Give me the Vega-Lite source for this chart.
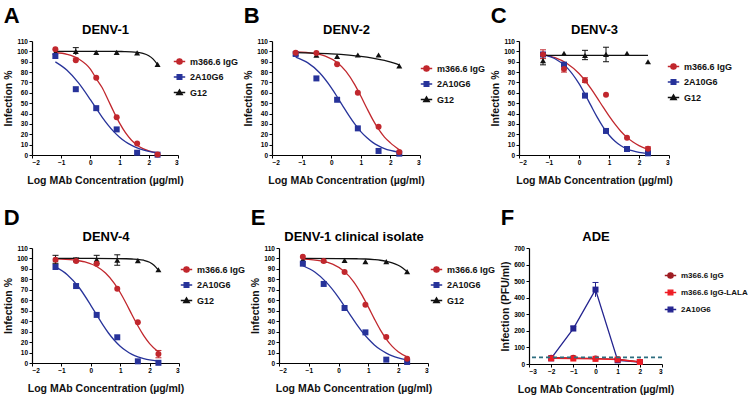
{
  "padding": {"left": 3, "top": 5, "right": 0, "bottom": 0},
  "config": {
    "font": "Liberation Sans",
    "view": {"stroke": null},
    "axis": {"grid": false, "labelOverlap": false, "domainColor": "#000", "tickColor": "#000", "tickSize": 3, "labelFontSize": 6.5, "labelFontWeight": "bold", "labelColor": "#000", "titleFontSize": 10.5, "titleFontWeight": "bold", "titleColor": "#111", "labelPadding": 1.5, "domainWidth": 1.2},
    "axisX": {"titlePadding": 9},
    "axisY": {"titlePadding": 3},
    "title": {"fontSize": 22, "fontWeight": "bold", "color": "#000", "anchor": "start"},
    "legend": {"padding": 0}
  },
  "datasets": {
    "cA": [
      {"x":-1.2,"y":98.9,"s":"m366.6 IgG"},{"x":-0.8,"y":97.1,"s":"m366.6 IgG"},{"x":-0.4,"y":92.7,"s":"m366.6 IgG"},{"x":0,"y":82.9,"s":"m366.6 IgG"},{"x":0.2,"y":73.7,"s":"m366.6 IgG"},{"x":0.4,"y":65.1,"s":"m366.6 IgG"},{"x":0.6,"y":53.6,"s":"m366.6 IgG"},{"x":0.8,"y":41.7,"s":"m366.6 IgG"},{"x":1.0,"y":30.7,"s":"m366.6 IgG"},{"x":1.2,"y":21.5,"s":"m366.6 IgG"},{"x":1.4,"y":14.5,"s":"m366.6 IgG"},{"x":1.6,"y":9.5,"s":"m366.6 IgG"},{"x":1.8,"y":6.1,"s":"m366.6 IgG"},{"x":2.0,"y":3.9,"s":"m366.6 IgG"},{"x":2.3,"y":1.9,"s":"m366.6 IgG"},
      {"x":-1.2,"y":89.9,"s":"2A10G6"},{"x":-0.8,"y":81.8,"s":"2A10G6"},{"x":-0.4,"y":69.4,"s":"2A10G6"},{"x":0,"y":53.4,"s":"2A10G6"},{"x":0.2,"y":44.9,"s":"2A10G6"},{"x":0.4,"y":36.6,"s":"2A10G6"},{"x":0.6,"y":29.1,"s":"2A10G6"},{"x":0.8,"y":22.6,"s":"2A10G6"},{"x":1.0,"y":17.2,"s":"2A10G6"},{"x":1.2,"y":12.8,"s":"2A10G6"},{"x":1.4,"y":9.5,"s":"2A10G6"},{"x":1.6,"y":6.9,"s":"2A10G6"},{"x":1.8,"y":5.0,"s":"2A10G6"},{"x":2.0,"y":3.6,"s":"2A10G6"},{"x":2.3,"y":2.2,"s":"2A10G6"},
      {"x":-1.2,"y":100,"s":"G12"},{"x":0,"y":100,"s":"G12"},{"x":0.8,"y":99.9,"s":"G12"},{"x":1.2,"y":99.8,"s":"G12"},{"x":1.4,"y":99.6,"s":"G12"},{"x":1.6,"y":99.1,"s":"G12"},{"x":1.8,"y":98.1,"s":"G12"},{"x":2.0,"y":95.8,"s":"G12"},{"x":2.15,"y":92.5,"s":"G12"},{"x":2.3,"y":87.2,"s":"G12"}
    ],
    "pA": [
      {"x":-1.2,"y":99,"s":"G12"},{"x":-0.5,"y":100,"s":"G12","lo":96.5,"hi":103.6},{"x":0.2,"y":99,"s":"G12"},{"x":0.9,"y":99,"s":"G12"},{"x":1.6,"y":98.5,"s":"G12"},{"x":2.3,"y":87.5,"s":"G12"},
      {"x":-1.2,"y":95.5,"s":"2A10G6"},{"x":-0.5,"y":63.5,"s":"2A10G6"},{"x":0.2,"y":45.2,"s":"2A10G6"},{"x":0.9,"y":24.7,"s":"2A10G6"},{"x":1.6,"y":2.2,"s":"2A10G6"},{"x":2.3,"y":0.3,"s":"2A10G6"},
      {"x":-1.2,"y":102,"s":"m366.6 IgG"},{"x":-0.5,"y":91.5,"s":"m366.6 IgG","lo":89.5,"hi":93.5},{"x":0.2,"y":74.5,"s":"m366.6 IgG"},{"x":0.9,"y":36.5,"s":"m366.6 IgG"},{"x":1.6,"y":11.2,"s":"m366.6 IgG"},{"x":2.3,"y":0.5,"s":"m366.6 IgG"}
    ],
    "cB": [
      {"x":-1.2,"y":99.5,"s":"m366.6 IgG"},{"x":-0.6,"y":98.1,"s":"m366.6 IgG"},{"x":-0.2,"y":95.4,"s":"m366.6 IgG"},{"x":0.2,"y":89.2,"s":"m366.6 IgG"},{"x":0.5,"y":80.6,"s":"m366.6 IgG"},{"x":0.8,"y":67.6,"s":"m366.6 IgG"},{"x":1.0,"y":56.9,"s":"m366.6 IgG"},{"x":1.2,"y":45.4,"s":"m366.6 IgG"},{"x":1.4,"y":34.4,"s":"m366.6 IgG"},{"x":1.6,"y":24.9,"s":"m366.6 IgG"},{"x":1.8,"y":17.3,"s":"m366.6 IgG"},{"x":2.0,"y":11.7,"s":"m366.6 IgG"},{"x":2.3,"y":5.0,"s":"m366.6 IgG"},
      {"x":-1.2,"y":94.5,"s":"2A10G6"},{"x":-0.8,"y":89.1,"s":"2A10G6"},{"x":-0.4,"y":79.6,"s":"2A10G6"},{"x":0,"y":65,"s":"2A10G6"},{"x":0.2,"y":56.2,"s":"2A10G6"},{"x":0.4,"y":47,"s":"2A10G6"},{"x":0.6,"y":38,"s":"2A10G6"},{"x":0.8,"y":29.7,"s":"2A10G6"},{"x":1.0,"y":22.6,"s":"2A10G6"},{"x":1.2,"y":16.8,"s":"2A10G6"},{"x":1.4,"y":12.2,"s":"2A10G6"},{"x":1.6,"y":8.8,"s":"2A10G6"},{"x":1.8,"y":6.2,"s":"2A10G6"},{"x":2.0,"y":4.4,"s":"2A10G6"},{"x":2.3,"y":2.6,"s":"2A10G6"},
      {"x":-1.2,"y":98.7,"s":"G12"},{"x":-0.6,"y":98.3,"s":"G12"},{"x":0,"y":97.6,"s":"G12"},{"x":0.6,"y":96.4,"s":"G12"},{"x":1.0,"y":95.2,"s":"G12"},{"x":1.4,"y":93.5,"s":"G12"},{"x":1.8,"y":91.2,"s":"G12"},{"x":2.1,"y":89,"s":"G12"},{"x":2.3,"y":87,"s":"G12"}
    ],
    "pB": [
      {"x":-1.2,"y":98,"s":"G12"},{"x":-0.5,"y":96.3,"s":"G12"},{"x":0.2,"y":95.2,"s":"G12"},{"x":0.9,"y":96.5,"s":"G12"},{"x":1.6,"y":96.5,"s":"G12"},{"x":2.3,"y":86,"s":"G12"},
      {"x":-1.2,"y":97.5,"s":"2A10G6"},{"x":-0.5,"y":73.9,"s":"2A10G6"},{"x":0.2,"y":53.3,"s":"2A10G6"},{"x":0.9,"y":25.7,"s":"2A10G6"},{"x":1.6,"y":3.9,"s":"2A10G6"},{"x":2.3,"y":1.3,"s":"2A10G6"},
      {"x":-1.2,"y":98.7,"s":"m366.6 IgG"},{"x":-0.5,"y":98.5,"s":"m366.6 IgG"},{"x":0.2,"y":87.5,"s":"m366.6 IgG"},{"x":0.9,"y":60.1,"s":"m366.6 IgG"},{"x":1.6,"y":27.3,"s":"m366.6 IgG"},{"x":2.3,"y":2.9,"s":"m366.6 IgG"}
    ],
    "cC": [
      {"x":-1.2,"y":96.9,"s":"m366.6 IgG"},{"x":-0.8,"y":93.9,"s":"m366.6 IgG"},{"x":-0.4,"y":88.3,"s":"m366.6 IgG"},{"x":0,"y":78.6,"s":"m366.6 IgG"},{"x":0.2,"y":71.9,"s":"m366.6 IgG"},{"x":0.4,"y":64,"s":"m366.6 IgG"},{"x":0.6,"y":55.4,"s":"m366.6 IgG"},{"x":0.8,"y":46.4,"s":"m366.6 IgG"},{"x":1.0,"y":37.7,"s":"m366.6 IgG"},{"x":1.2,"y":29.7,"s":"m366.6 IgG"},{"x":1.4,"y":22.7,"s":"m366.6 IgG"},{"x":1.6,"y":17,"s":"m366.6 IgG"},{"x":1.8,"y":12.5,"s":"m366.6 IgG"},{"x":2.0,"y":9.1,"s":"m366.6 IgG"},{"x":2.3,"y":5.5,"s":"m366.6 IgG"},
      {"x":-1.2,"y":96.9,"s":"2A10G6"},{"x":-0.8,"y":92.9,"s":"2A10G6"},{"x":-0.4,"y":84.3,"s":"2A10G6"},{"x":0,"y":68.8,"s":"2A10G6"},{"x":0.2,"y":58.6,"s":"2A10G6"},{"x":0.4,"y":47.6,"s":"2A10G6"},{"x":0.6,"y":36.8,"s":"2A10G6"},{"x":0.8,"y":27.2,"s":"2A10G6"},{"x":1.0,"y":19.3,"s":"2A10G6"},{"x":1.2,"y":13.3,"s":"2A10G6"},{"x":1.4,"y":8.9,"s":"2A10G6"},{"x":1.6,"y":6,"s":"2A10G6"},{"x":1.8,"y":3.9,"s":"2A10G6"},{"x":2.0,"y":2.5,"s":"2A10G6"},{"x":2.3,"y":1.3,"s":"2A10G6"},
      {"x":-1.2,"y":96.2,"s":"G12"},{"x":2.3,"y":96.2,"s":"G12"}
    ],
    "pC": [
      {"x":-1.2,"y":91,"s":"G12","lo":87,"hi":95},{"x":-0.5,"y":98,"s":"G12"},{"x":0.2,"y":96,"s":"G12","lo":92,"hi":101},{"x":0.9,"y":97,"s":"G12","lo":90,"hi":104},{"x":1.6,"y":98,"s":"G12"},{"x":2.3,"y":90,"s":"G12"},
      {"x":-1.2,"y":97,"s":"2A10G6"},{"x":-0.5,"y":87.2,"s":"2A10G6"},{"x":0.2,"y":57.3,"s":"2A10G6"},{"x":0.9,"y":23.2,"s":"2A10G6"},{"x":1.6,"y":5.8,"s":"2A10G6"},{"x":2.3,"y":1.6,"s":"2A10G6"},
      {"x":-1.2,"y":97,"s":"m366.6 IgG","lo":93,"hi":101.5},{"x":-0.5,"y":83,"s":"m366.6 IgG","lo":80,"hi":86},{"x":0.2,"y":72,"s":"m366.6 IgG","lo":70,"hi":74.5},{"x":0.9,"y":58.2,"s":"m366.6 IgG"},{"x":1.6,"y":16.7,"s":"m366.6 IgG"},{"x":2.3,"y":6.1,"s":"m366.6 IgG","lo":4.5,"hi":7.8}
    ],
    "cD": [
      {"x":-1.2,"y":99.6,"s":"m366.6 IgG"},{"x":-0.6,"y":98.6,"s":"m366.6 IgG"},{"x":-0.2,"y":96.7,"s":"m366.6 IgG"},{"x":0.2,"y":92.3,"s":"m366.6 IgG"},{"x":0.5,"y":86.1,"s":"m366.6 IgG"},{"x":0.8,"y":76.2,"s":"m366.6 IgG"},{"x":1.0,"y":67.4,"s":"m366.6 IgG"},{"x":1.2,"y":57.1,"s":"m366.6 IgG"},{"x":1.4,"y":46.2,"s":"m366.6 IgG"},{"x":1.6,"y":35.6,"s":"m366.6 IgG"},{"x":1.8,"y":26.2,"s":"m366.6 IgG"},{"x":2.0,"y":18.6,"s":"m366.6 IgG"},{"x":2.3,"y":10.6,"s":"m366.6 IgG"},
      {"x":-1.2,"y":92,"s":"2A10G6"},{"x":-0.8,"y":84.5,"s":"2A10G6"},{"x":-0.4,"y":72.2,"s":"2A10G6"},{"x":0,"y":55.2,"s":"2A10G6"},{"x":0.2,"y":46,"s":"2A10G6"},{"x":0.4,"y":36.9,"s":"2A10G6"},{"x":0.6,"y":28.7,"s":"2A10G6"},{"x":0.8,"y":21.8,"s":"2A10G6"},{"x":1.0,"y":16.1,"s":"2A10G6"},{"x":1.2,"y":11.7,"s":"2A10G6"},{"x":1.4,"y":8.3,"s":"2A10G6"},{"x":1.6,"y":5.9,"s":"2A10G6"},{"x":1.8,"y":4.2,"s":"2A10G6"},{"x":2.0,"y":2.9,"s":"2A10G6"},{"x":2.3,"y":1.7,"s":"2A10G6"},
      {"x":-1.2,"y":100,"s":"G12"},{"x":0,"y":100,"s":"G12"},{"x":0.8,"y":99.9,"s":"G12"},{"x":1.2,"y":99.7,"s":"G12"},{"x":1.4,"y":99.5,"s":"G12"},{"x":1.6,"y":99.2,"s":"G12"},{"x":1.8,"y":98.3,"s":"G12"},{"x":2.0,"y":96.4,"s":"G12"},{"x":2.15,"y":93.6,"s":"G12"},{"x":2.3,"y":88.9,"s":"G12"}
    ],
    "pD": [
      {"x":-1.2,"y":98.8,"s":"G12","lo":95,"hi":103},{"x":-0.5,"y":98.8,"s":"G12","lo":97,"hi":100.5},{"x":0.2,"y":98.8,"s":"G12","lo":95,"hi":103},{"x":0.9,"y":98.3,"s":"G12","lo":93.5,"hi":103.5},{"x":1.6,"y":97.9,"s":"G12"},{"x":2.3,"y":89.2,"s":"G12"},
      {"x":-1.2,"y":91.8,"s":"2A10G6"},{"x":-0.5,"y":73.6,"s":"2A10G6"},{"x":0.2,"y":46,"s":"2A10G6"},{"x":0.9,"y":24.6,"s":"2A10G6"},{"x":1.6,"y":1.6,"s":"2A10G6"},{"x":2.3,"y":0.2,"s":"2A10G6"},
      {"x":-1.2,"y":98.8,"s":"m366.6 IgG"},{"x":-0.5,"y":97.5,"s":"m366.6 IgG"},{"x":0.2,"y":95,"s":"m366.6 IgG"},{"x":0.9,"y":71,"s":"m366.6 IgG"},{"x":1.6,"y":39,"s":"m366.6 IgG"},{"x":2.3,"y":8.6,"s":"m366.6 IgG","lo":5,"hi":12}
    ],
    "cE": [
      {"x":-1.2,"y":99.4,"s":"m366.6 IgG"},{"x":-0.6,"y":97.7,"s":"m366.6 IgG"},{"x":-0.2,"y":94.5,"s":"m366.6 IgG"},{"x":0.2,"y":87.4,"s":"m366.6 IgG"},{"x":0.5,"y":77.9,"s":"m366.6 IgG"},{"x":0.8,"y":64.2,"s":"m366.6 IgG"},{"x":1.0,"y":53.4,"s":"m366.6 IgG"},{"x":1.2,"y":42.2,"s":"m366.6 IgG"},{"x":1.4,"y":31.7,"s":"m366.6 IgG"},{"x":1.6,"y":22.9,"s":"m366.6 IgG"},{"x":1.8,"y":15.9,"s":"m366.6 IgG"},{"x":2.0,"y":10.8,"s":"m366.6 IgG"},{"x":2.3,"y":5.8,"s":"m366.6 IgG"},
      {"x":-1.2,"y":93,"s":"2A10G6"},{"x":-0.8,"y":87,"s":"2A10G6"},{"x":-0.4,"y":76.9,"s":"2A10G6"},{"x":0,"y":62.6,"s":"2A10G6"},{"x":0.2,"y":54.2,"s":"2A10G6"},{"x":0.4,"y":45.6,"s":"2A10G6"},{"x":0.6,"y":37.2,"s":"2A10G6"},{"x":0.8,"y":29.5,"s":"2A10G6"},{"x":1.0,"y":22.9,"s":"2A10G6"},{"x":1.2,"y":17.3,"s":"2A10G6"},{"x":1.4,"y":12.9,"s":"2A10G6"},{"x":1.6,"y":9.5,"s":"2A10G6"},{"x":1.8,"y":6.9,"s":"2A10G6"},{"x":2.0,"y":5,"s":"2A10G6"},{"x":2.3,"y":3,"s":"2A10G6"},
      {"x":-1.2,"y":100,"s":"G12"},{"x":0,"y":99.9,"s":"G12"},{"x":0.6,"y":99.7,"s":"G12"},{"x":0.9,"y":99.5,"s":"G12"},{"x":1.2,"y":98.9,"s":"G12"},{"x":1.4,"y":98.3,"s":"G12"},{"x":1.6,"y":97.3,"s":"G12"},{"x":1.8,"y":95.8,"s":"G12"},{"x":2.0,"y":93.5,"s":"G12"},{"x":2.15,"y":90.9,"s":"G12"},{"x":2.3,"y":87.4,"s":"G12"}
    ],
    "pE": [
      {"x":-1.2,"y":98.9,"s":"G12"},{"x":-0.5,"y":98.2,"s":"G12"},{"x":0.2,"y":98.2,"s":"G12"},{"x":0.9,"y":97,"s":"G12"},{"x":1.6,"y":97,"s":"G12"},{"x":2.3,"y":87.4,"s":"G12"},
      {"x":-1.2,"y":95,"s":"2A10G6"},{"x":-0.5,"y":75.6,"s":"2A10G6"},{"x":0.2,"y":52.6,"s":"2A10G6"},{"x":0.9,"y":29.3,"s":"2A10G6"},{"x":1.6,"y":3.2,"s":"2A10G6"},{"x":2.3,"y":1,"s":"2A10G6"},
      {"x":-1.2,"y":101.7,"s":"m366.6 IgG"},{"x":-0.5,"y":97.6,"s":"m366.6 IgG"},{"x":0.2,"y":87,"s":"m366.6 IgG"},{"x":0.9,"y":55.8,"s":"m366.6 IgG"},{"x":1.6,"y":24.9,"s":"m366.6 IgG"},{"x":2.3,"y":4.1,"s":"m366.6 IgG"}
    ],
    "pF": [
      {"x":-2,"y":34,"s":"2A10G6"},{"x":-1,"y":214,"s":"2A10G6","lo":199,"hi":229},{"x":0,"y":449,"s":"2A10G6","lo":405,"hi":492},{"x":1,"y":22,"s":"2A10G6"},{"x":2,"y":12,"s":"2A10G6"},
      {"x":-2,"y":38,"s":"m366.6 IgG"},{"x":-1,"y":37,"s":"m366.6 IgG"},{"x":0,"y":33,"s":"m366.6 IgG"},{"x":1,"y":29,"s":"m366.6 IgG"},{"x":2,"y":13,"s":"m366.6 IgG"},
      {"x":-2,"y":34,"s":"m366.6 IgG-LALA"},{"x":-1,"y":33,"s":"m366.6 IgG-LALA"},{"x":0,"y":31,"s":"m366.6 IgG-LALA"},{"x":1,"y":27,"s":"m366.6 IgG-LALA"},{"x":2,"y":12,"s":"m366.6 IgG-LALA"}
    ],
    "lodF": [{"lod": 40}]
  },
  "resolve": {"scale": {"color": "independent", "shape": "independent", "fill": "independent", "stroke": "independent"}, "legend": {"color": "independent", "shape": "independent", "fill": "independent", "stroke": "independent"}},
  "spacing": 21,
  "vconcat": [
    {
      "spacing": 4,
      "resolve": {"scale": {"color": "independent", "shape": "independent", "fill": "independent", "stroke": "independent"}, "legend": {"color": "independent", "shape": "independent", "fill": "independent", "stroke": "independent"}},
      "hconcat": [
        {
          "width": 146, "height": 114,
          "title": {"text": "A", "offset": -5},
          "resolve": {"axis": {"x": "independent"}},
          "layer": [
            {"data": {"name": "cA"}, "mark": {"type": "line", "interpolate": "monotone", "strokeWidth": 1.3},
             "encoding": {
               "x": {"field": "x", "type": "quantitative", "title": "Log MAb Concentration (µg/ml)", "scale": {"domain": [-2, 3], "nice": false, "zero": false}, "axis": {"values": [-2, -1, 0, 1, 2, 3], "tickCount": 20, "labelOverlap": false, "format": "d"}},
               "y": {"field": "y", "type": "quantitative", "title": "Infection %", "scale": {"domain": [0, 110], "nice": false}, "axis": {"values": [0, 10, 20, 30, 40, 50, 60, 70, 80, 90, 100, 110], "tickCount": 20, "labelOverlap": false, "format": "d"}},
               "color": {"field": "s", "type": "nominal", "scale": {"domain": ["G12", "2A10G6", "m366.6 IgG"], "range": ["#111111", "#27339a", "#c1272d"]}, "legend": null}}},
            {"data": {"name": "pA"}, "transform": [{"filter": {"field": "hi", "valid": true}}], "mark": {"type": "rule", "strokeWidth": 1},
             "encoding": {"x": {"field": "x", "type": "quantitative", "axis": null}, "y": {"field": "lo", "type": "quantitative", "title": "Infection %"}, "y2": {"field": "hi"}, "color": {"field": "s", "type": "nominal", "legend": null}}},
            {"data": {"name": "pA"}, "transform": [{"filter": {"field": "hi", "valid": true}}], "mark": {"type": "tick", "orient": "horizontal", "size": 6, "thickness": 1, "opacity": 1},
             "encoding": {"x": {"field": "x", "type": "quantitative", "axis": null}, "y": {"field": "hi", "type": "quantitative", "title": "Infection %"}, "color": {"field": "s", "type": "nominal", "legend": null}}},
            {"data": {"name": "pA"}, "transform": [{"filter": {"field": "s", "equal": "G12"}}], "mark": {"type": "point", "shape": "triangle-up", "filled": true, "opacity": 1, "size": 36},
             "encoding": {"x": {"field": "x", "type": "quantitative", "axis": {"orient": "top", "title": "DENV-1", "domain": false, "ticks": false, "labels": false, "titleFontSize": 13, "titleColor": "#000", "titlePadding": 5}}, "y": {"field": "y", "type": "quantitative", "title": "Infection %"}, "color": {"field": "s", "type": "nominal", "legend": null}}},
            {"data": {"name": "pA"}, "transform": [{"filter": {"field": "s", "equal": "2A10G6"}}], "mark": {"type": "point", "shape": "square", "filled": true, "opacity": 1, "size": 36},
             "encoding": {"x": {"field": "x", "type": "quantitative", "axis": null}, "y": {"field": "y", "type": "quantitative", "title": "Infection %"}, "color": {"field": "s", "type": "nominal", "legend": null}}},
            {"data": {"name": "pA"}, "transform": [{"filter": {"field": "s", "equal": "m366.6 IgG"}}], "mark": {"type": "point", "shape": "circle", "filled": true, "opacity": 1, "size": 36},
             "encoding": {"x": {"field": "x", "type": "quantitative", "axis": null}, "y": {"field": "y", "type": "quantitative", "title": "Infection %"}, "color": {"field": "s", "type": "nominal", "legend": null}}},
            {"data": {"name": "pA"}, "transform": [{"filter": {"field": "s", "equal": "none"}}], "mark": {"type": "point", "filled": true, "opacity": 1, "strokeWidth": 1.3, "size": 45},
             "encoding": {
               "x": {"field": "x", "type": "quantitative", "axis": null},
               "y": {"field": "y", "type": "quantitative", "title": "Infection %"},
               "fill": {"field": "s", "type": "nominal", "scale": {"domain": ["m366.6 IgG", "2A10G6", "G12"], "range": ["#c1272d", "#27339a", "#111111"]},
                 "legend": {"orient": "none", "legendX": 143, "legendY": 16, "title": null, "labelFontSize": 9, "labelFontWeight": "bold", "labelColor": "#111", "symbolSize": 45, "symbolStrokeWidth": 1.3, "symbolOpacity": 1, "rowPadding": 4.5, "labelOffset": 6}},
               "stroke": {"field": "s", "type": "nominal", "scale": {"domain": ["m366.6 IgG", "2A10G6", "G12"], "range": ["#c1272d", "#27339a", "#111111"]},
                 "legend": {"orient": "none", "legendX": 143, "legendY": 16, "title": null, "labelFontSize": 9, "labelFontWeight": "bold", "labelColor": "#111", "symbolSize": 45, "symbolStrokeWidth": 1.3, "symbolOpacity": 1, "rowPadding": 4.5, "labelOffset": 6}},
               "shape": {"field": "s", "type": "nominal", "scale": {"domain": ["m366.6 IgG", "2A10G6", "G12"], "range": ["M-1.7,0H1.7M-0.8,0A0.8,0.8,0,1,1,0.8,0A0.8,0.8,0,1,1,-0.8,0Z", "M-1.7,0H1.7M-0.7,-0.7H0.7V0.7H-0.7Z", "M-1.7,0H1.7M0,-0.8L0.85,0.65L-0.85,0.65Z"]},
                 "legend": {"orient": "none", "legendX": 143, "legendY": 16, "title": null, "labelFontSize": 9, "labelFontWeight": "bold", "labelColor": "#111", "symbolSize": 45, "symbolStrokeWidth": 1.3, "symbolOpacity": 1, "rowPadding": 4.5, "labelOffset": 6}}
             }}
          ]
        },
        {
          "width": 148, "height": 114,
          "title": {"text": "B", "offset": -5},
          "resolve": {"axis": {"x": "independent"}},
          "layer": [
            {"data": {"name": "cB"}, "mark": {"type": "line", "interpolate": "monotone", "strokeWidth": 1.3},
             "encoding": {
               "x": {"field": "x", "type": "quantitative", "title": "Log MAb Concentration (µg/ml)", "scale": {"domain": [-2, 3], "nice": false, "zero": false}, "axis": {"values": [-2, -1, 0, 1, 2, 3], "tickCount": 20, "labelOverlap": false, "format": "d"}},
               "y": {"field": "y", "type": "quantitative", "title": "Infection %", "scale": {"domain": [0, 110], "nice": false}, "axis": {"values": [0, 10, 20, 30, 40, 50, 60, 70, 80, 90, 100, 110], "tickCount": 20, "labelOverlap": false, "format": "d"}},
               "color": {"field": "s", "type": "nominal", "scale": {"domain": ["G12", "2A10G6", "m366.6 IgG"], "range": ["#111111", "#27339a", "#c1272d"]}, "legend": null}}},
            {"data": {"name": "pB"}, "transform": [{"filter": {"field": "s", "equal": "G12"}}], "mark": {"type": "point", "shape": "triangle-up", "filled": true, "opacity": 1, "size": 36},
             "encoding": {"x": {"field": "x", "type": "quantitative", "axis": {"orient": "top", "title": "DENV-2", "domain": false, "ticks": false, "labels": false, "titleFontSize": 13, "titleColor": "#000", "titlePadding": 5}}, "y": {"field": "y", "type": "quantitative", "title": "Infection %"}, "color": {"field": "s", "type": "nominal", "legend": null}}},
            {"data": {"name": "pB"}, "transform": [{"filter": {"field": "s", "equal": "2A10G6"}}], "mark": {"type": "point", "shape": "square", "filled": true, "opacity": 1, "size": 36},
             "encoding": {"x": {"field": "x", "type": "quantitative", "axis": null}, "y": {"field": "y", "type": "quantitative", "title": "Infection %"}, "color": {"field": "s", "type": "nominal", "legend": null}}},
            {"data": {"name": "pB"}, "transform": [{"filter": {"field": "s", "equal": "m366.6 IgG"}}], "mark": {"type": "point", "shape": "circle", "filled": true, "opacity": 1, "size": 36},
             "encoding": {"x": {"field": "x", "type": "quantitative", "axis": null}, "y": {"field": "y", "type": "quantitative", "title": "Infection %"}, "color": {"field": "s", "type": "nominal", "legend": null}}},
            {"data": {"name": "pB"}, "transform": [{"filter": {"field": "s", "equal": "none"}}], "mark": {"type": "point", "filled": true, "opacity": 1, "strokeWidth": 1.3, "size": 45},
             "encoding": {
               "x": {"field": "x", "type": "quantitative", "axis": null},
               "y": {"field": "y", "type": "quantitative", "title": "Infection %"},
               "fill": {"field": "s", "type": "nominal", "scale": {"domain": ["m366.6 IgG", "2A10G6", "G12"], "range": ["#c1272d", "#27339a", "#111111"]},
                 "legend": {"orient": "none", "legendX": 150, "legendY": 23, "title": null, "labelFontSize": 9, "labelFontWeight": "bold", "labelColor": "#111", "symbolSize": 45, "symbolStrokeWidth": 1.3, "symbolOpacity": 1, "rowPadding": 4.5, "labelOffset": 6}},
               "stroke": {"field": "s", "type": "nominal", "scale": {"domain": ["m366.6 IgG", "2A10G6", "G12"], "range": ["#c1272d", "#27339a", "#111111"]},
                 "legend": {"orient": "none", "legendX": 150, "legendY": 23, "title": null, "labelFontSize": 9, "labelFontWeight": "bold", "labelColor": "#111", "symbolSize": 45, "symbolStrokeWidth": 1.3, "symbolOpacity": 1, "rowPadding": 4.5, "labelOffset": 6}},
               "shape": {"field": "s", "type": "nominal", "scale": {"domain": ["m366.6 IgG", "2A10G6", "G12"], "range": ["M-1.7,0H1.7M-0.8,0A0.8,0.8,0,1,1,0.8,0A0.8,0.8,0,1,1,-0.8,0Z", "M-1.7,0H1.7M-0.7,-0.7H0.7V0.7H-0.7Z", "M-1.7,0H1.7M0,-0.8L0.85,0.65L-0.85,0.65Z"]},
                 "legend": {"orient": "none", "legendX": 150, "legendY": 23, "title": null, "labelFontSize": 9, "labelFontWeight": "bold", "labelColor": "#111", "symbolSize": 45, "symbolStrokeWidth": 1.3, "symbolOpacity": 1, "rowPadding": 4.5, "labelOffset": 6}}
             }}
          ]
        },
        {
          "width": 150, "height": 114,
          "title": {"text": "C", "offset": -5},
          "resolve": {"axis": {"x": "independent"}},
          "layer": [
            {"data": {"name": "cC"}, "mark": {"type": "line", "interpolate": "monotone", "strokeWidth": 1.3},
             "encoding": {
               "x": {"field": "x", "type": "quantitative", "title": "Log MAb Concentration (µg/ml)", "scale": {"domain": [-2, 3], "nice": false, "zero": false}, "axis": {"values": [-2, -1, 0, 1, 2, 3], "tickCount": 20, "labelOverlap": false, "format": "d"}},
               "y": {"field": "y", "type": "quantitative", "title": "Infection %", "scale": {"domain": [0, 110], "nice": false}, "axis": {"values": [0, 10, 20, 30, 40, 50, 60, 70, 80, 90, 100, 110], "tickCount": 20, "labelOverlap": false, "format": "d"}},
               "color": {"field": "s", "type": "nominal", "scale": {"domain": ["G12", "2A10G6", "m366.6 IgG"], "range": ["#111111", "#27339a", "#c1272d"]}, "legend": null}}},
            {"data": {"name": "pC"}, "transform": [{"filter": {"field": "hi", "valid": true}}], "mark": {"type": "rule", "strokeWidth": 1},
             "encoding": {"x": {"field": "x", "type": "quantitative", "axis": null}, "y": {"field": "lo", "type": "quantitative", "title": "Infection %"}, "y2": {"field": "hi"}, "color": {"field": "s", "type": "nominal", "legend": null}}},
            {"data": {"name": "pC"}, "transform": [{"filter": {"field": "hi", "valid": true}}], "mark": {"type": "tick", "orient": "horizontal", "size": 6, "thickness": 1, "opacity": 1},
             "encoding": {"x": {"field": "x", "type": "quantitative", "axis": null}, "y": {"field": "hi", "type": "quantitative", "title": "Infection %"}, "color": {"field": "s", "type": "nominal", "legend": null}}},
            {"data": {"name": "pC"}, "transform": [{"filter": {"field": "hi", "valid": true}}], "mark": {"type": "tick", "orient": "horizontal", "size": 6, "thickness": 1, "opacity": 1},
             "encoding": {"x": {"field": "x", "type": "quantitative", "axis": null}, "y": {"field": "lo", "type": "quantitative", "title": "Infection %"}, "color": {"field": "s", "type": "nominal", "legend": null}}},
            {"data": {"name": "pC"}, "transform": [{"filter": {"field": "s", "equal": "G12"}}], "mark": {"type": "point", "shape": "triangle-up", "filled": true, "opacity": 1, "size": 36},
             "encoding": {"x": {"field": "x", "type": "quantitative", "axis": {"orient": "top", "title": "DENV-3", "domain": false, "ticks": false, "labels": false, "titleFontSize": 13, "titleColor": "#000", "titlePadding": 5}}, "y": {"field": "y", "type": "quantitative", "title": "Infection %"}, "color": {"field": "s", "type": "nominal", "legend": null}}},
            {"data": {"name": "pC"}, "transform": [{"filter": {"field": "s", "equal": "2A10G6"}}], "mark": {"type": "point", "shape": "square", "filled": true, "opacity": 1, "size": 36},
             "encoding": {"x": {"field": "x", "type": "quantitative", "axis": null}, "y": {"field": "y", "type": "quantitative", "title": "Infection %"}, "color": {"field": "s", "type": "nominal", "legend": null}}},
            {"data": {"name": "pC"}, "transform": [{"filter": {"field": "s", "equal": "m366.6 IgG"}}], "mark": {"type": "point", "shape": "circle", "filled": true, "opacity": 1, "size": 36},
             "encoding": {"x": {"field": "x", "type": "quantitative", "axis": null}, "y": {"field": "y", "type": "quantitative", "title": "Infection %"}, "color": {"field": "s", "type": "nominal", "legend": null}}},
            {"data": {"name": "pC"}, "transform": [{"filter": {"field": "s", "equal": "none"}}], "mark": {"type": "point", "filled": true, "opacity": 1, "strokeWidth": 1.3, "size": 45},
             "encoding": {
               "x": {"field": "x", "type": "quantitative", "axis": null},
               "y": {"field": "y", "type": "quantitative", "title": "Infection %"},
               "fill": {"field": "s", "type": "nominal", "scale": {"domain": ["m366.6 IgG", "2A10G6", "G12"], "range": ["#c1272d", "#27339a", "#111111"]},
                 "legend": {"orient": "none", "legendX": 150, "legendY": 21, "title": null, "labelFontSize": 9, "labelFontWeight": "bold", "labelColor": "#111", "symbolSize": 45, "symbolStrokeWidth": 1.3, "symbolOpacity": 1, "rowPadding": 4.5, "labelOffset": 6}},
               "stroke": {"field": "s", "type": "nominal", "scale": {"domain": ["m366.6 IgG", "2A10G6", "G12"], "range": ["#c1272d", "#27339a", "#111111"]},
                 "legend": {"orient": "none", "legendX": 150, "legendY": 21, "title": null, "labelFontSize": 9, "labelFontWeight": "bold", "labelColor": "#111", "symbolSize": 45, "symbolStrokeWidth": 1.3, "symbolOpacity": 1, "rowPadding": 4.5, "labelOffset": 6}},
               "shape": {"field": "s", "type": "nominal", "scale": {"domain": ["m366.6 IgG", "2A10G6", "G12"], "range": ["M-1.7,0H1.7M-0.8,0A0.8,0.8,0,1,1,0.8,0A0.8,0.8,0,1,1,-0.8,0Z", "M-1.7,0H1.7M-0.7,-0.7H0.7V0.7H-0.7Z", "M-1.7,0H1.7M0,-0.8L0.85,0.65L-0.85,0.65Z"]},
                 "legend": {"orient": "none", "legendX": 150, "legendY": 21, "title": null, "labelFontSize": 9, "labelFontWeight": "bold", "labelColor": "#111", "symbolSize": 45, "symbolStrokeWidth": 1.3, "symbolOpacity": 1, "rowPadding": 4.5, "labelOffset": 6}}
             }}
          ]
        }
      ]
    },
    {
      "spacing": 4,
      "resolve": {"scale": {"color": "independent", "shape": "independent", "fill": "independent", "stroke": "independent"}, "legend": {"color": "independent", "shape": "independent", "fill": "independent", "stroke": "independent"}},
      "hconcat": [
        {
          "width": 147, "height": 115,
          "title": {"text": "D", "offset": 0},
          "resolve": {"axis": {"x": "independent"}},
          "layer": [
            {"data": {"name": "cD"}, "mark": {"type": "line", "interpolate": "monotone", "strokeWidth": 1.3},
             "encoding": {
               "x": {"field": "x", "type": "quantitative", "title": "Log MAb Concentration (µg/ml)", "scale": {"domain": [-2, 3], "nice": false, "zero": false}, "axis": {"values": [-2, -1, 0, 1, 2, 3], "tickCount": 20, "labelOverlap": false, "format": "d"}},
               "y": {"field": "y", "type": "quantitative", "title": "Infection %", "scale": {"domain": [0, 110], "nice": false}, "axis": {"values": [0, 10, 20, 30, 40, 50, 60, 70, 80, 90, 100, 110], "tickCount": 20, "labelOverlap": false, "format": "d"}},
               "color": {"field": "s", "type": "nominal", "scale": {"domain": ["G12", "2A10G6", "m366.6 IgG"], "range": ["#111111", "#27339a", "#c1272d"]}, "legend": null}}},
            {"data": {"name": "pD"}, "transform": [{"filter": {"field": "hi", "valid": true}}], "mark": {"type": "rule", "strokeWidth": 1},
             "encoding": {"x": {"field": "x", "type": "quantitative", "axis": null}, "y": {"field": "lo", "type": "quantitative", "title": "Infection %"}, "y2": {"field": "hi"}, "color": {"field": "s", "type": "nominal", "legend": null}}},
            {"data": {"name": "pD"}, "transform": [{"filter": {"field": "hi", "valid": true}}], "mark": {"type": "tick", "orient": "horizontal", "size": 6, "thickness": 1, "opacity": 1},
             "encoding": {"x": {"field": "x", "type": "quantitative", "axis": null}, "y": {"field": "hi", "type": "quantitative", "title": "Infection %"}, "color": {"field": "s", "type": "nominal", "legend": null}}},
            {"data": {"name": "pD"}, "transform": [{"filter": {"field": "hi", "valid": true}}], "mark": {"type": "tick", "orient": "horizontal", "size": 6, "thickness": 1, "opacity": 1},
             "encoding": {"x": {"field": "x", "type": "quantitative", "axis": null}, "y": {"field": "lo", "type": "quantitative", "title": "Infection %"}, "color": {"field": "s", "type": "nominal", "legend": null}}},
            {"data": {"name": "pD"}, "transform": [{"filter": {"field": "s", "equal": "G12"}}], "mark": {"type": "point", "shape": "triangle-up", "filled": true, "opacity": 1, "size": 36},
             "encoding": {"x": {"field": "x", "type": "quantitative", "axis": {"orient": "top", "title": "DENV-4", "domain": false, "ticks": false, "labels": false, "titleFontSize": 13, "titleColor": "#000", "titlePadding": 5}}, "y": {"field": "y", "type": "quantitative", "title": "Infection %"}, "color": {"field": "s", "type": "nominal", "legend": null}}},
            {"data": {"name": "pD"}, "transform": [{"filter": {"field": "s", "equal": "2A10G6"}}], "mark": {"type": "point", "shape": "square", "filled": true, "opacity": 1, "size": 36},
             "encoding": {"x": {"field": "x", "type": "quantitative", "axis": null}, "y": {"field": "y", "type": "quantitative", "title": "Infection %"}, "color": {"field": "s", "type": "nominal", "legend": null}}},
            {"data": {"name": "pD"}, "transform": [{"filter": {"field": "s", "equal": "m366.6 IgG"}}], "mark": {"type": "point", "shape": "circle", "filled": true, "opacity": 1, "size": 36},
             "encoding": {"x": {"field": "x", "type": "quantitative", "axis": null}, "y": {"field": "y", "type": "quantitative", "title": "Infection %"}, "color": {"field": "s", "type": "nominal", "legend": null}}},
            {"data": {"name": "pD"}, "transform": [{"filter": {"field": "s", "equal": "none"}}], "mark": {"type": "point", "filled": true, "opacity": 1, "strokeWidth": 1.3, "size": 45},
             "encoding": {
               "x": {"field": "x", "type": "quantitative", "axis": null},
               "y": {"field": "y", "type": "quantitative", "title": "Infection %"},
               "fill": {"field": "s", "type": "nominal", "scale": {"domain": ["m366.6 IgG", "2A10G6", "G12"], "range": ["#c1272d", "#27339a", "#111111"]},
                 "legend": {"orient": "none", "legendX": 150, "legendY": 17, "title": null, "labelFontSize": 9, "labelFontWeight": "bold", "labelColor": "#111", "symbolSize": 45, "symbolStrokeWidth": 1.3, "symbolOpacity": 1, "rowPadding": 4.5, "labelOffset": 6}},
               "stroke": {"field": "s", "type": "nominal", "scale": {"domain": ["m366.6 IgG", "2A10G6", "G12"], "range": ["#c1272d", "#27339a", "#111111"]},
                 "legend": {"orient": "none", "legendX": 150, "legendY": 17, "title": null, "labelFontSize": 9, "labelFontWeight": "bold", "labelColor": "#111", "symbolSize": 45, "symbolStrokeWidth": 1.3, "symbolOpacity": 1, "rowPadding": 4.5, "labelOffset": 6}},
               "shape": {"field": "s", "type": "nominal", "scale": {"domain": ["m366.6 IgG", "2A10G6", "G12"], "range": ["M-1.7,0H1.7M-0.8,0A0.8,0.8,0,1,1,0.8,0A0.8,0.8,0,1,1,-0.8,0Z", "M-1.7,0H1.7M-0.7,-0.7H0.7V0.7H-0.7Z", "M-1.7,0H1.7M0,-0.8L0.85,0.65L-0.85,0.65Z"]},
                 "legend": {"orient": "none", "legendX": 150, "legendY": 17, "title": null, "labelFontSize": 9, "labelFontWeight": "bold", "labelColor": "#111", "symbolSize": 45, "symbolStrokeWidth": 1.3, "symbolOpacity": 1, "rowPadding": 4.5, "labelOffset": 6}}
             }}
          ]
        },
        {
          "width": 149, "height": 115,
          "title": {"text": "E", "offset": 0},
          "resolve": {"axis": {"x": "independent"}},
          "layer": [
            {"data": {"name": "cE"}, "mark": {"type": "line", "interpolate": "monotone", "strokeWidth": 1.3},
             "encoding": {
               "x": {"field": "x", "type": "quantitative", "title": "Log MAb Concentration (µg/ml)", "scale": {"domain": [-2, 3], "nice": false, "zero": false}, "axis": {"values": [-2, -1, 0, 1, 2, 3], "tickCount": 20, "labelOverlap": false, "format": "d"}},
               "y": {"field": "y", "type": "quantitative", "title": "Infection %", "scale": {"domain": [0, 110], "nice": false}, "axis": {"values": [0, 10, 20, 30, 40, 50, 60, 70, 80, 90, 100, 110], "tickCount": 20, "labelOverlap": false, "format": "d"}},
               "color": {"field": "s", "type": "nominal", "scale": {"domain": ["G12", "2A10G6", "m366.6 IgG"], "range": ["#111111", "#27339a", "#c1272d"]}, "legend": null}}},
            {"data": {"name": "pE"}, "transform": [{"filter": {"field": "s", "equal": "G12"}}], "mark": {"type": "point", "shape": "triangle-up", "filled": true, "opacity": 1, "size": 36},
             "encoding": {"x": {"field": "x", "type": "quantitative", "axis": {"orient": "top", "title": "DENV-1 clinical isolate", "domain": false, "ticks": false, "labels": false, "titleFontSize": 13, "titleColor": "#000", "titlePadding": 5}}, "y": {"field": "y", "type": "quantitative", "title": "Infection %"}, "color": {"field": "s", "type": "nominal", "legend": null}}},
            {"data": {"name": "pE"}, "transform": [{"filter": {"field": "s", "equal": "2A10G6"}}], "mark": {"type": "point", "shape": "square", "filled": true, "opacity": 1, "size": 36},
             "encoding": {"x": {"field": "x", "type": "quantitative", "axis": null}, "y": {"field": "y", "type": "quantitative", "title": "Infection %"}, "color": {"field": "s", "type": "nominal", "legend": null}}},
            {"data": {"name": "pE"}, "transform": [{"filter": {"field": "s", "equal": "m366.6 IgG"}}], "mark": {"type": "point", "shape": "circle", "filled": true, "opacity": 1, "size": 36},
             "encoding": {"x": {"field": "x", "type": "quantitative", "axis": null}, "y": {"field": "y", "type": "quantitative", "title": "Infection %"}, "color": {"field": "s", "type": "nominal", "legend": null}}},
            {"data": {"name": "pE"}, "transform": [{"filter": {"field": "s", "equal": "none"}}], "mark": {"type": "point", "filled": true, "opacity": 1, "strokeWidth": 1.3, "size": 45},
             "encoding": {
               "x": {"field": "x", "type": "quantitative", "axis": null},
               "y": {"field": "y", "type": "quantitative", "title": "Infection %"},
               "fill": {"field": "s", "type": "nominal", "scale": {"domain": ["m366.6 IgG", "2A10G6", "G12"], "range": ["#c1272d", "#27339a", "#111111"]},
                 "legend": {"orient": "none", "legendX": 153, "legendY": 17, "title": null, "labelFontSize": 9, "labelFontWeight": "bold", "labelColor": "#111", "symbolSize": 45, "symbolStrokeWidth": 1.3, "symbolOpacity": 1, "rowPadding": 4.5, "labelOffset": 6}},
               "stroke": {"field": "s", "type": "nominal", "scale": {"domain": ["m366.6 IgG", "2A10G6", "G12"], "range": ["#c1272d", "#27339a", "#111111"]},
                 "legend": {"orient": "none", "legendX": 153, "legendY": 17, "title": null, "labelFontSize": 9, "labelFontWeight": "bold", "labelColor": "#111", "symbolSize": 45, "symbolStrokeWidth": 1.3, "symbolOpacity": 1, "rowPadding": 4.5, "labelOffset": 6}},
               "shape": {"field": "s", "type": "nominal", "scale": {"domain": ["m366.6 IgG", "2A10G6", "G12"], "range": ["M-1.7,0H1.7M-0.8,0A0.8,0.8,0,1,1,0.8,0A0.8,0.8,0,1,1,-0.8,0Z", "M-1.7,0H1.7M-0.7,-0.7H0.7V0.7H-0.7Z", "M-1.7,0H1.7M0,-0.8L0.85,0.65L-0.85,0.65Z"]},
                 "legend": {"orient": "none", "legendX": 153, "legendY": 17, "title": null, "labelFontSize": 9, "labelFontWeight": "bold", "labelColor": "#111", "symbolSize": 45, "symbolStrokeWidth": 1.3, "symbolOpacity": 1, "rowPadding": 4.5, "labelOffset": 6}}
             }}
          ]
        },
        {
          "width": 133, "height": 116,
          "title": {"text": "F", "offset": 0},
          "resolve": {"axis": {"x": "independent"}},
          "layer": [
            {"data": {"name": "pF"}, "mark": {"type": "line", "strokeWidth": 1.3},
             "encoding": {
               "x": {"field": "x", "type": "quantitative", "title": "Log MAb Concentration (µg/ml)", "scale": {"domain": [-3, 3], "nice": false, "zero": false}, "axis": {"values": [-3, -2, -1, 0, 1, 2, 3], "tickCount": 20, "labelOverlap": false, "format": "d"}},
               "y": {"field": "y", "type": "quantitative", "title": "Infection (PFU/ml)", "scale": {"domain": [0, 700], "nice": false}, "axis": {"values": [0, 100, 200, 300, 400, 500, 600, 700], "tickCount": 20, "labelOverlap": false, "format": "d"}},
               "color": {"field": "s", "type": "nominal", "scale": {"domain": ["2A10G6", "m366.6 IgG-LALA", "m366.6 IgG"], "range": ["#23238f", "#ee1c25", "#9e1c22"]}, "legend": null}}},
            {"data": {"name": "pF"}, "transform": [{"filter": {"field": "hi", "valid": true}}], "mark": {"type": "rule", "strokeWidth": 1},
             "encoding": {"x": {"field": "x", "type": "quantitative", "axis": null}, "y": {"field": "lo", "type": "quantitative", "title": "Infection (PFU/ml)"}, "y2": {"field": "hi"}, "color": {"field": "s", "type": "nominal", "legend": null}}},
            {"data": {"name": "pF"}, "transform": [{"filter": {"field": "hi", "valid": true}}], "mark": {"type": "tick", "orient": "horizontal", "size": 6, "thickness": 1, "opacity": 1},
             "encoding": {"x": {"field": "x", "type": "quantitative", "axis": null}, "y": {"field": "hi", "type": "quantitative", "title": "Infection (PFU/ml)"}, "color": {"field": "s", "type": "nominal", "legend": null}}},
            {"data": {"name": "pF"}, "transform": [{"filter": {"field": "s", "equal": "m366.6 IgG"}}], "mark": {"type": "point", "shape": "circle", "filled": true, "opacity": 1, "size": 36},
             "encoding": {"x": {"field": "x", "type": "quantitative", "axis": {"orient": "top", "title": "ADE", "domain": false, "ticks": false, "labels": false, "titleFontSize": 13, "titleColor": "#000", "titlePadding": 5}}, "y": {"field": "y", "type": "quantitative", "title": "Infection (PFU/ml)"}, "color": {"field": "s", "type": "nominal", "legend": null}}},
            {"data": {"name": "pF"}, "transform": [{"filter": {"field": "s", "oneOf": ["2A10G6", "m366.6 IgG-LALA"]}}], "mark": {"type": "point", "shape": "square", "filled": true, "opacity": 1, "size": 36},
             "encoding": {"x": {"field": "x", "type": "quantitative", "axis": null}, "y": {"field": "y", "type": "quantitative", "title": "Infection (PFU/ml)"}, "color": {"field": "s", "type": "nominal", "legend": null}}},
            {"data": {"name": "lodF"}, "mark": {"type": "rule", "color": "#2d6e80", "strokeDash": [4, 3], "strokeWidth": 1.6},
             "encoding": {"y": {"field": "lod", "type": "quantitative", "title": "Infection (PFU/ml)"}}},
            {"data": {"name": "pF"}, "transform": [{"filter": {"field": "s", "equal": "none"}}], "mark": {"type": "point", "filled": true, "opacity": 1, "strokeWidth": 1.3, "size": 45},
             "encoding": {
               "x": {"field": "x", "type": "quantitative", "axis": null},
               "y": {"field": "y", "type": "quantitative", "title": "Infection (PFU/ml)"},
               "fill": {"field": "s", "type": "nominal", "scale": {"domain": ["m366.6 IgG", "m366.6 IgG-LALA", "2A10G6"], "range": ["#9e1c22", "#ee1c25", "#23238f"]},
                 "legend": {"orient": "none", "legendX": 137, "legendY": 23, "title": null, "labelFontSize": 8, "labelFontWeight": "bold", "labelColor": "#111", "symbolSize": 45, "symbolStrokeWidth": 1.3, "symbolOpacity": 1, "rowPadding": 6, "labelOffset": 6}},
               "stroke": {"field": "s", "type": "nominal", "scale": {"domain": ["m366.6 IgG", "m366.6 IgG-LALA", "2A10G6"], "range": ["#9e1c22", "#ee1c25", "#23238f"]},
                 "legend": {"orient": "none", "legendX": 137, "legendY": 23, "title": null, "labelFontSize": 8, "labelFontWeight": "bold", "labelColor": "#111", "symbolSize": 45, "symbolStrokeWidth": 1.3, "symbolOpacity": 1, "rowPadding": 6, "labelOffset": 6}},
               "shape": {"field": "s", "type": "nominal", "scale": {"domain": ["m366.6 IgG", "m366.6 IgG-LALA", "2A10G6"], "range": ["M-1.7,0H1.7M-0.8,0A0.8,0.8,0,1,1,0.8,0A0.8,0.8,0,1,1,-0.8,0Z", "M-1.7,0H1.7M-0.7,-0.7H0.7V0.7H-0.7Z", "M-1.7,0H1.7M-0.7,-0.7H0.7V0.7H-0.7Z"]},
                 "legend": {"orient": "none", "legendX": 137, "legendY": 23, "title": null, "labelFontSize": 8, "labelFontWeight": "bold", "labelColor": "#111", "symbolSize": 45, "symbolStrokeWidth": 1.3, "symbolOpacity": 1, "rowPadding": 6, "labelOffset": 6}}
             }}
          ]
        }
      ]
    }
  ]
}
